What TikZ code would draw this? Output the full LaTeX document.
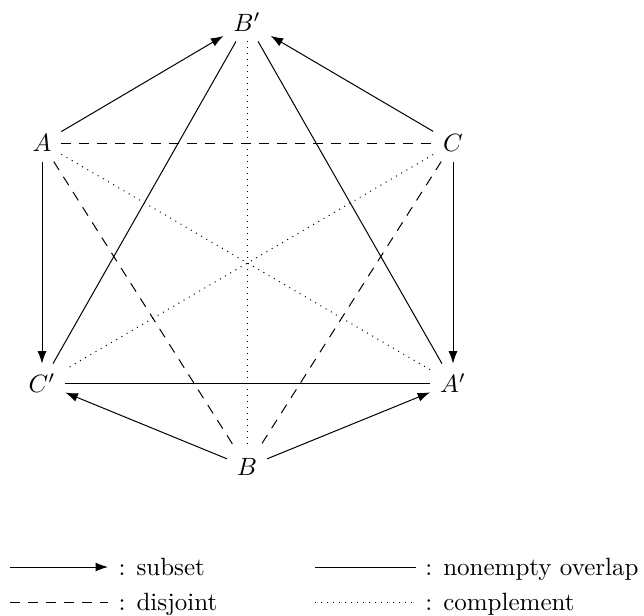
\documentclass[tikz,border=0pt]{standalone}
\usetikzlibrary{arrows.meta}
\begin{document}
\begin{tikzpicture}[x=0.40pt,y=-0.40pt,
  lbl/.style={inner sep=0pt,outer sep=4pt},
  sub/.style={-{Latex[length=5pt,width=3.6pt]},line width=0.4pt},
  ovl/.style={line width=0.4pt},
  dis/.style={dash pattern=on 4pt off 3.2pt,line width=0.4pt},
  cmp/.style={dotted,line width=0.4pt},
  lt/.style={anchor=base west,inner sep=0pt}]
\useasboundingbox (0,0) rectangle (644,615);
\node[lbl] (Bp) at (247,22) {$B'$};
\node[lbl] (A) at (42,143) {$A$};
\node[lbl] (C) at (453,143) {$C$};
\node[lbl] (Cp) at (42,383) {$C'$};
\node[lbl] (Ap) at (453,383) {$A'$};
\node[lbl] (B) at (247,467) {$B$};
\draw[sub] (A) -- (Bp);
\draw[sub] (C) -- (Bp);
\draw[sub] (A) -- (Cp);
\draw[sub] (C) -- (Ap);
\draw[sub] (B) -- (Cp);
\draw[sub] (B) -- (Ap);
\draw[ovl] (Bp) -- (Cp);
\draw[ovl] (Bp) -- (Ap);
\draw[ovl] (Cp) -- (Ap);
\draw[dis] (A) -- (C);
\draw[dis] (A) -- (B);
\draw[dis] (C) -- (B);
\draw[cmp] (Bp) -- (B);
\draw[cmp] (A) -- (Ap);
\draw[cmp] (C) -- (Cp);
% legend
\coordinate (l1a) at (10,567); \coordinate (l1b) at (108,567);
\coordinate (l2a) at (10,602); \coordinate (l2b) at (108,602);
\coordinate (l3a) at (315,567); \coordinate (l3b) at (416,567);
\coordinate (l4a) at (315,602); \coordinate (l4b) at (416,602);
\draw[sub] (l1a) -- (l1b);
\draw[dis] (l2a) -- (l2b);
\draw[ovl] (l3a) -- (l3b);
\draw[cmp] (l4a) -- (l4b);
\node[lt] (t1) at ([xshift=4pt,yshift=-3.5pt]l1b) {: subset};
\node[lt] (t2) at ([xshift=4pt,yshift=-3.5pt]l2b) {: disjoint};
\node[lt] (t3) at ([xshift=3.5pt,yshift=-3.5pt]l3b) {: nonempty overlap};
\node[lt] (t4) at ([xshift=3.5pt,yshift=-3.5pt]l4b) {: complement};
\end{tikzpicture}
\end{document}
